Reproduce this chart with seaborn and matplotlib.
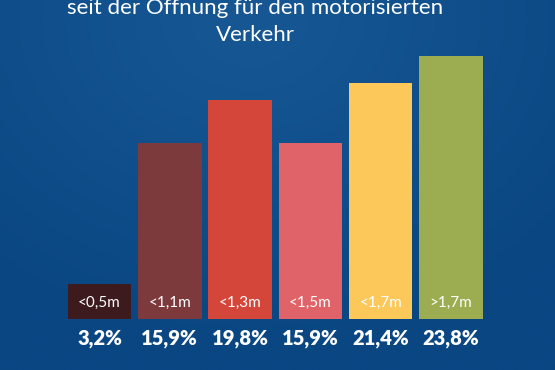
import numpy as np
import pandas as pd
import matplotlib
matplotlib.use('Agg')
import matplotlib.pyplot as plt
import seaborn as sns

# data
categories = ['<0,5m', '<1,1m', '<1,3m', '<1,5m', '<1,7m', '>1,7m']
shares = [3.2, 15.9, 19.8, 15.9, 21.4, 23.8]
share_labels = ['3,2%', '15,9%', '19,8%', '15,9%', '21,4%', '23,8%']
colors = ['#3d1a1d', '#7d3a3c', '#d4453a', '#df6368', '#fcc85a', '#9bad50']
title_lines = ['seit der Öffnung für den motorisierten', 'Verkehr']

df = pd.DataFrame({'Kategorie': categories, 'Anteil': shares})

sns.set_style('white')
plt.rcParams['font.family'] = ['Lato', 'DejaVu Sans']

fig = plt.figure(figsize=(5.55, 3.7), dpi=100)

# background gradient
bg = fig.add_axes([0, 0, 1, 1])
yy, xx = np.mgrid[0:1:200j, 0:1:300j]
r = np.sqrt(((xx - 0.45) * 1.2) ** 2 + ((yy - 0.05) * 1.0) ** 2)
light = np.array([0x17, 0x58, 0x94]) / 255
dark = np.array([0x09, 0x46, 0x82]) / 255
t = np.clip(r / 0.9, 0, 1)[..., None]
img = light * (1 - t) + dark * t
bg.imshow(img, extent=[0, 1, 0, 1], aspect='auto', origin='upper')
bg.axis('off')

ax = fig.add_axes([0, 0, 1, 1])
ax.patch.set_alpha(0)
sns.barplot(data=df, x='Kategorie', y='Anteil', hue='Kategorie',
            palette=colors, width=0.903, legend=False, ax=ax, saturation=1,
            linewidth=0)

px = 11.05
ax.set_xlim(-99.5 / 70.3, (555 - 99.5) / 70.3)
ax.set_ylim(-(370 - 319) / px, 319 / px)
ax.axis('off')

for i, (cat, lab) in enumerate(zip(categories, share_labels)):
    ax.text(i, 1.45, cat, ha='center', va='center', color='white', fontsize=11)
    ax.text(i, -1.8, lab, ha='center', va='center', color='white',
            fontsize=14.5, fontweight='heavy')

fig.text(255 / 555, 1 - 6 / 370, title_lines[0], ha='center', va='center',
         color='white', fontsize=16)
fig.text(255 / 555, 1 - 35 / 370, title_lines[1], ha='center', va='center',
         color='white', fontsize=16)

fig.savefig('out.png', dpi=100)
